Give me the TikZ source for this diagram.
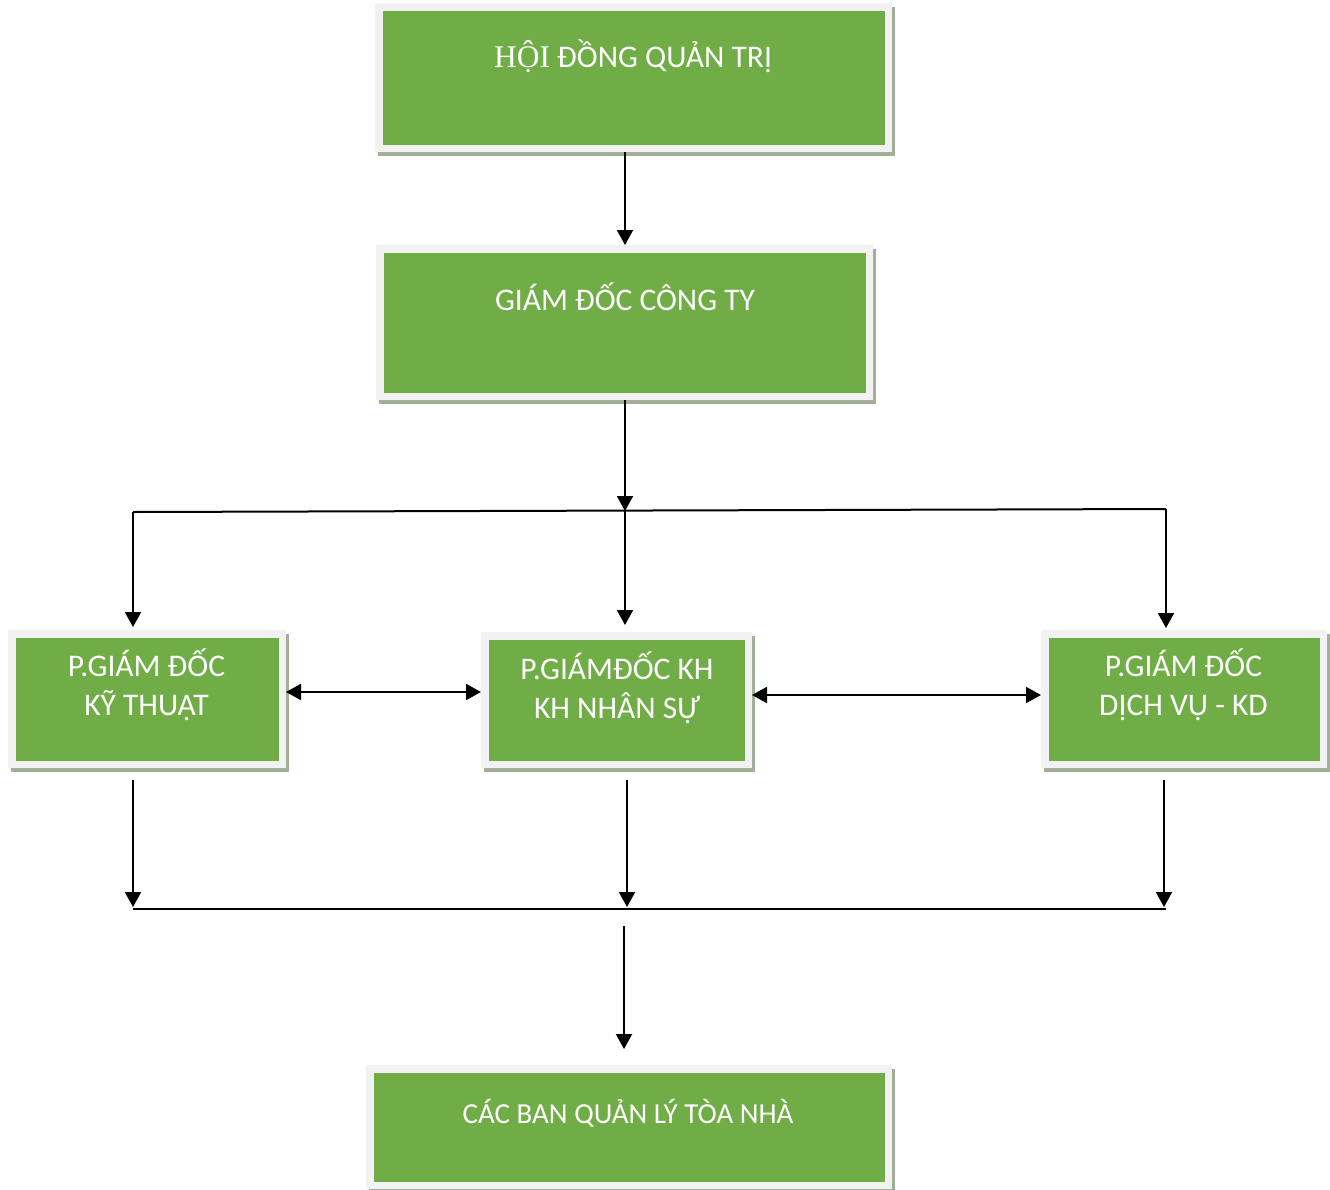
\documentclass[tikz,border=0pt]{standalone}
\usepackage{fontspec}
\setmainfont{Carlito}
\newfontfamily\hoiserif{Liberation Serif}
\usetikzlibrary{arrows.meta,calc}
\definecolor{boxgreen}{HTML}{70AD47}
\definecolor{framegray}{HTML}{F2F2F2}
\definecolor{shadowgray}{HTML}{A3AF98}
\begin{document}
\begin{tikzpicture}[x=1pt,y=-1pt,
  orgbox/.style={fill=boxgreen, draw=framegray, line width=7.5pt, inner sep=0pt,
    preaction={fill=shadowgray, draw=shadowgray, line width=7.5pt,
      transform canvas={shift={(3pt,-4pt)}}}},
  boxtext/.style={text=white, font=\fontsize{31.5}{39}\selectfont, align=center,
    anchor=base, inner sep=0pt},
  plainline/.style={line width=2pt},
  link/.style={line width=2pt, -{Triangle[length=15pt,width=16pt]}},
  dlink/.style={line width=2pt, {Triangle[length=15pt,width=16pt]}-{Triangle[length=15pt,width=16pt]}}
]
\useasboundingbox (0,0) rectangle (1330,1189);

% boxes
\node[orgbox, minimum width=509.5pt, minimum height=141.5pt] (b1) at (633.5,77.5) {};
\node[orgbox, minimum width=489.5pt, minimum height=147.5pt] (b2) at (624.5,322.5) {};
\node[orgbox, minimum width=270.5pt, minimum height=130.5pt] (b3) at (147,699) {};
\node[orgbox, minimum width=263.5pt, minimum height=128.5pt] (b4) at (616.5,700) {};
\node[orgbox, minimum width=278.5pt, minimum height=130.5pt] (b5) at (1184,699) {};
\node[orgbox, minimum width=518.5pt, minimum height=116.5pt] (b6) at (629,1127) {};

% texts (multi-line nodes: base = last line)
\node[boxtext] (t1) at (633,67) {{\hoiserif HỘI} ĐỒNG QUẢN TRỊ};
\node[boxtext] (t2) at (625,310) {GIÁM ĐỐC CÔNG TY};
\node[boxtext] (t3) at (146.5,715) {P.GIÁM ĐỐC\\KỸ THUẬT};
\node[boxtext] (t4) at (617,718) {P.GIÁMĐỐC KH\\KH NHÂN SỰ};
\node[boxtext] (t5) at (1183.5,715) {P.GIÁM ĐỐC\\DỊCH VỤ - KD};
\node[boxtext, font=\fontsize{29}{36}\selectfont] (t6) at (628,1123) {CÁC BAN QUẢN LÝ TÒA NHÀ};

% coordinates
\coordinate (topX) at (625,0);
\coordinate (busL) at (133,512);
\coordinate (busM) at (625,511);
\coordinate (busR) at (1166,509);
\coordinate (h1) at (380,692);
\coordinate (h2) at (900,695);
\coordinate (dL) at (133,780);
\coordinate (dM) at (627,780);
\coordinate (dR) at (1164,780);
\coordinate (eL) at (133,907);
\coordinate (eM) at (627,907);
\coordinate (eR) at (1164,907);
\coordinate (cL) at (133,909);
\coordinate (cR) at (1166,909);
\coordinate (fS) at (624,926);

% connectors
\draw[link] (b1.south -| topX) -- (b2.north -| topX);
\draw[link] (b2.south -| topX) -- (busM);
\draw[plainline] (busL) -- (busR);
\draw[link, shorten >=3pt] (busL) -- (b3.north -| busL);
\draw[link, shorten >=7pt] (busM) -- (b4.north -| busM);
\draw[link, shorten >=2pt] (busR) -- (b5.north -| busR);
\draw[dlink] (b3.east |- h1) -- (b4.west |- h1);
\draw[dlink] (b4.east |- h2) -- (b5.west |- h2);
\draw[link] (dL) -- (eL);
\draw[link] (dM) -- (eM);
\draw[link] (dR) -- (eR);
\draw[plainline] (cL) -- (cR);
\draw[link, shorten >=16pt] (fS) -- (fS |- b6.north);
\end{tikzpicture}
\end{document}
